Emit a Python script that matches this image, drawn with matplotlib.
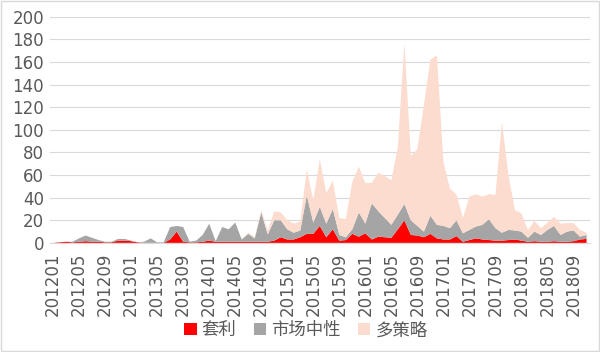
import matplotlib.pyplot as plt
from matplotlib.patches import Rectangle

plt.rcParams['font.family'] = ['DejaVu Sans', 'Noto Sans CJK SC']

# monthly, 201201 .. 201811
months = [f"{y}{m:02d}" for y in range(2012, 2019) for m in range(1, 13)][:83]

# stacked values (new funds per month)
arbitrage = [0, 0.5, 1, 0.5, 1, 1.5, 1, 1, 0.5, 0.5,
             2, 2, 1.5, 0.5, 0, 0, 0, 0, 3, 10,
             1, 0.5, 0.5, 1, 2, 1, 1, 1, 1, 1,
             1, 1, 1, 1, 2, 5, 3, 3, 5, 8,
             8, 15, 5, 12, 2, 2.5, 8, 5.5, 8.5, 3,
             5.5, 5, 4.5, 12, 20, 7, 6.5, 5, 8, 4,
             3, 3, 6, 1, 2.5, 4, 3, 2.5, 2, 2,
             2.5, 3, 2, 1, 1.5, 1, 1, 1.5, 1, 1,
             1.5, 3, 3.5]
neutral = [0, 0, 0, 0.5, 3, 5, 3.5, 1.5, 0.5, 0.5,
           1.5, 1.5, 0.5, 0, 1, 4, 0.5, 0.5, 11, 5,
           13, 0.5, 1.5, 6, 15, 0.5, 13, 11, 17, 2,
           7, 3, 26, 6.5, 18, 15, 9, 6, 6, 34,
           10, 17, 12, 18, 5, 2.5, 4, 21.5, 8.5, 32,
           22.5, 17, 11.5, 13, 14.5, 13, 8.5, 5, 16, 12,
           12, 10, 14, 7.5, 9, 10.5, 13, 18.5, 11, 7,
           9, 8, 8, 3.5, 8.5, 6, 10.5, 13.5, 6, 9,
           9.5, 2.5, 3.5]
multi = [0, 0, 0, 0, 0, 0, 0, 0, 0, 0,
         0, 0, 0, 0, 0, 0, 0, 0, 0, 0,
         0, 0, 0, 0, 0, 0, 0, 0, 0, 0,
         1, 1, 2, 3.5, 8, 7, 8, 8, 8, 23,
         20, 42, 27, 25, 15, 16, 42, 40.5, 36, 18,
         34, 37, 39.5, 60, 142.5, 57, 68, 112, 138, 150,
         57, 35, 23, 13.5, 29.5, 28.5, 25, 22, 29.5, 98,
         48.5, 18, 16, 7, 9.5, 6, 6.5, 8, 10, 7.5,
         6.5, 6, 2]

labels = ["套利", "市场中性", "多策略"]
colors = ["#FF0000", "#A5A5A5", "#FBDCCF"]

fig = plt.figure(figsize=(6, 3.52), dpi=100)
ax = fig.add_axes([0.083, 0.31, 0.9, 0.642])

x = list(range(len(months)))
ax.stackplot(x, arbitrage, neutral, multi, colors=colors, labels=labels, linewidth=0)

ax.set_xlim(-0.5, len(months) - 0.5)
ax.set_ylim(0, 200)
ax.set_yticks(range(0, 201, 20))
ax.set_xticks(x[::4])
ax.set_xticklabels(months[::4], rotation=90)
ax.tick_params(axis="both", length=0, labelsize=12, colors="#595959")
ax.tick_params(axis="x", pad=7)
ax.tick_params(axis="y", pad=4)
ax.grid(axis="y", color="#D9D9D9", linewidth=0.8)
ax.set_axisbelow(True)
for s in ["top", "right", "left"]:
    ax.spines[s].set_visible(False)
ax.spines["bottom"].set_color("#D9D9D9")

fig.legend(*ax.get_legend_handles_labels(), loc="center", bbox_to_anchor=(0.51, 0.062),
           ncol=3, frameon=False, fontsize=12.5, labelcolor="#595959",
           handlelength=0.7, handleheight=0.7, handletextpad=0.3, columnspacing=1.0)

fig.patches.append(Rectangle((0.002, 0.003), 0.996, 0.994, transform=fig.transFigure,
                             fill=False, edgecolor="#D9D9D9", linewidth=1))

fig.savefig("out.png", dpi=100)
